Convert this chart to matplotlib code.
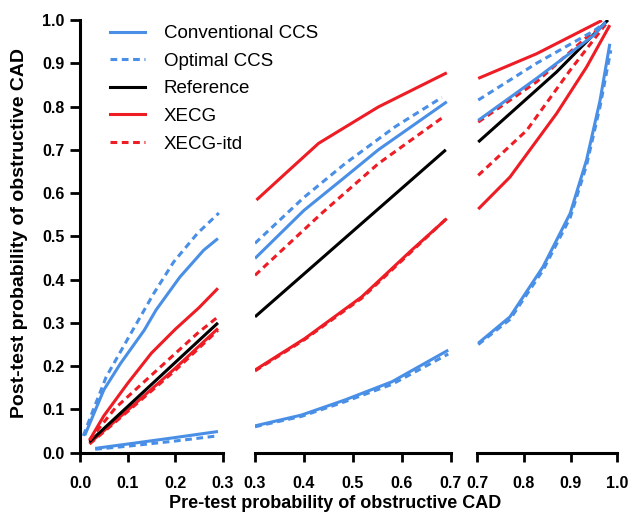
import numpy as np
import matplotlib
matplotlib.use('Agg')
from matplotlib import pyplot as plt
from matplotlib.lines import Line2D

plt.rcParams['font.family'] = ['Liberation Sans', 'DejaVu Sans']

# values (pre-test -> post-test probability)
conv_pos_x = [0.01, 0.05, 0.085, 0.135, 0.16, 0.21, 0.26, 0.29,
              0.30, 0.40, 0.484, 0.552, 0.692,
              0.702, 0.827, 0.95, 0.975]
conv_pos_y = [0.04, 0.145, 0.206, 0.283, 0.33, 0.406, 0.468, 0.495,
              0.449, 0.56, 0.637, 0.70, 0.811,
              0.768, 0.865, 0.965, 0.995]

opt_pos_x = [0.007, 0.025, 0.055, 0.105, 0.155, 0.197, 0.247, 0.292,
             0.30, 0.40, 0.484, 0.586, 0.682,
             0.702, 0.827, 0.95, 0.975]
opt_pos_y = [0.039, 0.091, 0.175, 0.272, 0.368, 0.441, 0.507, 0.554,
             0.484, 0.59, 0.668, 0.753, 0.821,
             0.815, 0.90, 0.975, 0.995]

ref_x = [0.02, 0.29, 0.30, 0.69, 0.702, 0.87, 0.98]
ref_y = [0.025, 0.30, 0.314, 0.70, 0.718, 0.88, 1.0]

xecg_pos_x = [0.02, 0.05, 0.1, 0.15, 0.2, 0.25, 0.29,
              0.303, 0.36, 0.43, 0.552, 0.692,
              0.702, 0.827, 0.967]
xecg_pos_y = [0.029, 0.085, 0.16, 0.23, 0.285, 0.335, 0.38,
              0.584, 0.643, 0.715, 0.799, 0.878,
              0.865, 0.922, 0.999]

itd_pos_x = [0.02, 0.074, 0.162, 0.247, 0.29,
             0.30, 0.436, 0.552, 0.685,
             0.702, 0.827, 0.931, 0.975]
itd_pos_y = [0.029, 0.103, 0.191, 0.276, 0.314,
             0.41, 0.553, 0.668, 0.776,
             0.764, 0.857, 0.957, 0.99]

xecg_neg_x = [0.02, 0.1, 0.2, 0.29,
              0.30, 0.402, 0.518, 0.62, 0.692,
              0.702, 0.77, 0.87, 0.934, 0.984]
xecg_neg_y = [0.022, 0.098, 0.195, 0.287,
              0.191, 0.264, 0.36, 0.468, 0.541,
              0.563, 0.637, 0.784, 0.891, 0.988]

itd_neg_x = [0.02, 0.1, 0.2, 0.29,
             0.30, 0.402, 0.518, 0.62, 0.695,
             0.702, 0.806, 0.899, 0.975]
itd_neg_y = [0.02, 0.095, 0.19, 0.283,
             0.189, 0.262, 0.357, 0.465, 0.545,
             0.641, 0.745, 0.884, 0.99]

conv_neg_x = [0.032, 0.1, 0.2, 0.29,
              0.30, 0.395, 0.484, 0.58, 0.695,
              0.702, 0.77, 0.841, 0.899, 0.934, 0.963, 0.984]
conv_neg_y = [0.010, 0.02, 0.035, 0.049,
              0.062, 0.087, 0.122, 0.164, 0.237,
              0.253, 0.314, 0.43, 0.553, 0.676, 0.814, 0.945]

opt_neg_x = [0.032, 0.1, 0.2, 0.29,
             0.30, 0.395, 0.484, 0.58, 0.695,
             0.702, 0.77, 0.841, 0.899, 0.934, 0.963, 0.986]
opt_neg_y = [0.008, 0.015, 0.027, 0.039,
             0.06, 0.084, 0.118, 0.158, 0.228,
             0.25, 0.308, 0.422, 0.543, 0.664, 0.80, 0.93]

panel_ranges = [(0.0, 0.3), (0.3, 0.7), (0.7, 1.0)]
panel_ticks = [[0.0, 0.1, 0.2, 0.3],
               [0.3, 0.4, 0.5, 0.6, 0.7],
               [0.7, 0.8, 0.9, 1.0]]
y_ticks = [0.0, 0.1, 0.2, 0.3, 0.4, 0.5, 0.6, 0.7, 0.8, 0.9, 1.0]

blue = '#4a8fe6'
red = '#ee1c24'
lw = 2.2
dash = (2.2, 1.5)

series = [
    (conv_neg_x, conv_neg_y, blue, 'solid'),
    (opt_neg_x, opt_neg_y, blue, 'dashed'),
    (xecg_neg_x, xecg_neg_y, red, 'solid'),
    (itd_neg_x, itd_neg_y, red, 'dashed'),
    (ref_x, ref_y, 'black', 'solid'),
    (itd_pos_x, itd_pos_y, red, 'dashed'),
    (xecg_pos_x, xecg_pos_y, red, 'solid'),
    (conv_pos_x, conv_pos_y, blue, 'solid'),
    (opt_pos_x, opt_pos_y, blue, 'dashed'),
]

fig = plt.figure(figsize=(6.32, 5.13), dpi=100)
W, H = 632.0, 513.0
bottom = (H - 452.7) / H
height = 432.7 / H
lefts = [80, 255, 477.3]
rights = [222.7, 450.7, 617.3]

axes = []
for i, (lo, hi) in enumerate(panel_ranges):
    ax = fig.add_axes([lefts[i] / W, bottom, (rights[i] - lefts[i]) / W, height])
    for xs, ys, col, ls in series:
        xs = np.array(xs)
        ys = np.array(ys)
        if i < 2:
            m = (xs >= lo) & (xs < hi)
        else:
            m = xs >= lo
        line, = ax.plot(xs[m], ys[m], color=col, lw=lw, solid_capstyle='butt')
        if ls == 'dashed':
            line.set_dashes(dash)
    ax.set_xlim(lo, hi)
    ax.set_ylim(0, 1)
    ax.set_xticks(panel_ticks[i])
    ax.set_xticklabels(['%.1f' % t for t in panel_ticks[i]], fontweight='bold', fontsize=11.5)
    for s in ['top', 'right']:
        ax.spines[s].set_visible(False)
    ax.spines['bottom'].set_linewidth(2.2)
    ax.tick_params(axis='x', length=6.5, width=2.0, pad=10)
    if i == 0:
        ax.spines['left'].set_linewidth(2.2)
        ax.set_yticks(y_ticks)
        ax.set_yticklabels(['%.1f' % t for t in y_ticks], fontweight='bold', fontsize=11.5)
        ax.tick_params(axis='y', length=7, width=2.0, pad=4)
    else:
        ax.spines['left'].set_visible(False)
        ax.set_yticks([])
    ax.patch.set_alpha(0)
    axes.append(ax)

handles = [
    Line2D([], [], color=blue, lw=lw),
    Line2D([], [], color=blue, lw=lw, dashes=dash),
    Line2D([], [], color='black', lw=lw),
    Line2D([], [], color=red, lw=lw),
    Line2D([], [], color=red, lw=lw, dashes=dash),
]
labels = ['Conventional CCS', 'Optimal CCS', 'Reference', 'XECG', 'XECG-itd']
fig.legend(handles, labels, loc='upper left', bbox_to_anchor=(110 / W, 1 - 25 / H),
           frameon=False, fontsize=13.5, handlelength=1.87, handletextpad=1.0,
           labelspacing=0.56, borderpad=0, borderaxespad=0)

fig.text(335 / W, (H - 504) / H, 'Pre-test probability of obstructive CAD',
         ha='center', va='center', fontsize=13, fontweight='bold')
fig.text(20 / W, (H - 233) / H, 'Post-test probability of obstructive CAD',
         ha='center', va='center', rotation=90, fontsize=14, fontweight='bold')

fig.savefig('out.png', dpi=100)
